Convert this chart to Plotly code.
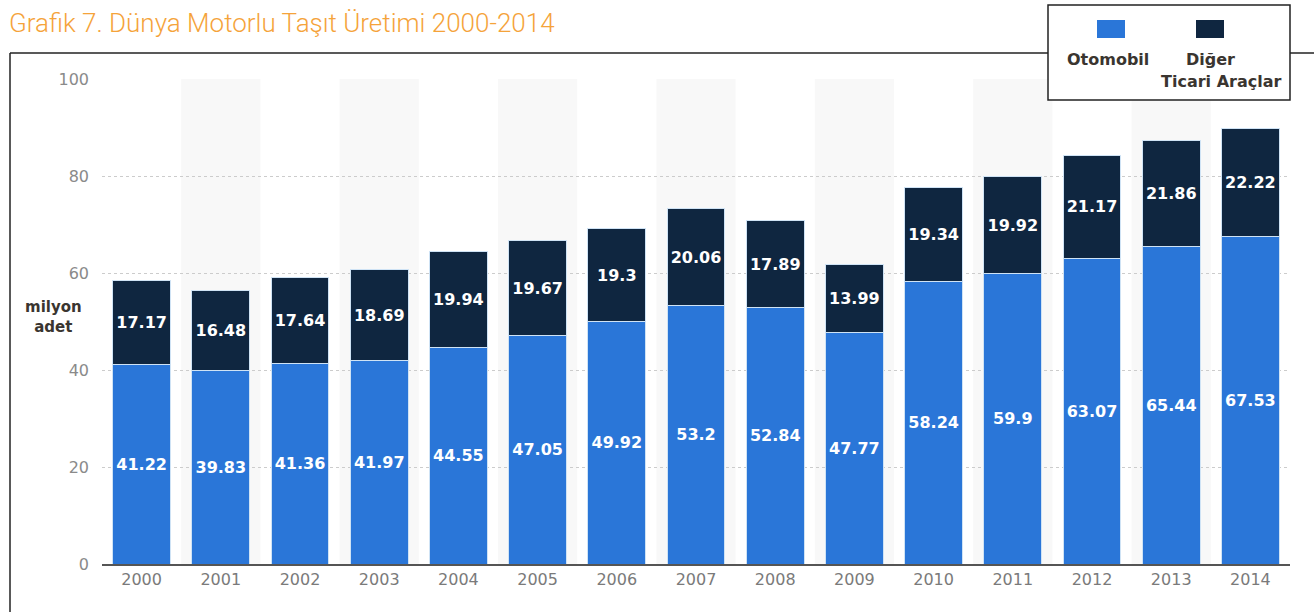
import plotly.graph_objects as go

# World motor vehicle production, million units
years = ["2000", "2001", "2002", "2003", "2004", "2005", "2006", "2007",
         "2008", "2009", "2010", "2011", "2012", "2013", "2014"]
otomobil = [41.22, 39.83, 41.36, 41.97, 44.55, 47.05, 49.92, 53.2,
            52.84, 47.77, 58.24, 59.9, 63.07, 65.44, 67.53]
ticari = [17.17, 16.48, 17.64, 18.69, 19.94, 19.67, 19.3, 20.06,
          17.89, 13.99, 19.34, 19.92, 21.17, 21.86, 22.22]
y_ticks = [0, 20, 40, 60, 80, 100]

BLUE = "#2a76d8"
NAVY = "#0f2640"
W, H = 1314, 612
ML, MR, MT, MB = 102, 24, 79, 48
PW, PH = W - ML - MR, H - MT - MB


def px(x):
    return (x - ML) / PW


def py(y):
    return (H - MB - y) / PH


fig = go.Figure()
label_font = dict(family="DejaVu Sans", size=16, color="white", weight="bold")
fig.add_trace(go.Bar(
    x=years, y=otomobil, name="Otomobil", marker_color=BLUE,
    marker_line=dict(color="#cfe3f5", width=1),
    text=[f"{v:g}" for v in otomobil], textposition="inside",
    insidetextanchor="middle", textfont=label_font, textangle=0,
))
fig.add_trace(go.Bar(
    x=years, y=ticari, name="Diğer Ticari Araçlar", marker_color=NAVY,
    marker_line=dict(color="#cfe3f5", width=1),
    text=[f"{v:g}" for v in ticari], textposition="inside",
    insidetextanchor="middle", textfont=label_font, textangle=0,
))

shapes = []
# alternating column bands
for i in range(1, len(years), 2):
    shapes.append(dict(type="rect", xref="x", yref="paper",
                       x0=i - 0.5, x1=i + 0.5, y0=0, y1=1,
                       fillcolor="#f8f8f8", line_width=0, layer="below"))
# outer frame lines
shapes.append(dict(type="line", xref="paper", yref="paper",
                   x0=px(10), x1=px(W), y0=py(53), y1=py(53),
                   line=dict(color="#222", width=1.5)))
shapes.append(dict(type="line", xref="paper", yref="paper",
                   x0=px(10), x1=px(10), y0=py(53), y1=py(H + 5),
                   line=dict(color="#222", width=1.5)))
# legend box
shapes.append(dict(type="rect", xref="paper", yref="paper",
                   x0=px(1048), x1=px(1290), y0=py(100), y1=py(5),
                   fillcolor="white", line=dict(color="#222", width=1.5),
                   layer="above"))
shapes.append(dict(type="rect", xref="paper", yref="paper",
                   x0=px(1098), x1=px(1124), y0=py(37), y1=py(21),
                   fillcolor=BLUE, line=dict(color=BLUE, width=2),
                   layer="above"))
shapes.append(dict(type="rect", xref="paper", yref="paper",
                   x0=px(1197), x1=px(1223), y0=py(37), y1=py(21),
                   fillcolor=NAVY, line=dict(color=NAVY, width=2),
                   layer="above"))

legend_font = dict(family="DejaVu Sans", size=16, color="#3a3530",
                   weight="bold")
annotations = [
    dict(text="Grafik 7. Dünya Motorlu Taşıt Üretimi 2000-2014",
         xref="paper", yref="paper", x=px(7), y=py(23),
         xanchor="left", yanchor="middle", showarrow=False,
         font=dict(family="Roboto", size=26, color="#f5a33a", weight=300)),
    dict(text="milyon<br>adet", xref="paper", yref="paper",
         x=px(53), y=py(317), xanchor="center", yanchor="middle",
         showarrow=False, align="center",
         font=dict(family="DejaVu Sans", size=15, color="#3a3530",
                   weight="bold")),
    dict(text="Otomobil", xref="paper", yref="paper",
         x=px(1108), y=py(60), xanchor="center", yanchor="middle",
         showarrow=False, font=legend_font),
    dict(text="Diğer", xref="paper", yref="paper",
         x=px(1210), y=py(60), xanchor="center", yanchor="middle",
         showarrow=False, font=legend_font),
    dict(text="Ticari Araçlar", xref="paper", yref="paper",
         x=px(1221), y=py(81), xanchor="center", yanchor="middle",
         showarrow=False, font=legend_font),
]

fig.update_layout(
    width=W, height=H, barmode="stack", bargap=0.27,
    margin=dict(l=ML, r=MR, t=MT, b=MB),
    plot_bgcolor="white", paper_bgcolor="white",
    showlegend=False, shapes=shapes, annotations=annotations,
    uniformtext=dict(minsize=10, mode="show"),
    xaxis=dict(type="category", showgrid=False, ticks="",
               tickfont=dict(family="DejaVu Sans", size=16, color="#7a7a7a"),
               showline=True, linecolor="#555", linewidth=2),
    yaxis=dict(range=[0, 100], tickvals=y_ticks, showgrid=True,
               gridcolor="#cccccc", griddash="dot", gridwidth=1,
               zeroline=False, ticks="", ticklabelstandoff=12,
               tickfont=dict(family="DejaVu Sans", size=16, color="#8a8a8a")),
)

fig.write_html("out.html")
